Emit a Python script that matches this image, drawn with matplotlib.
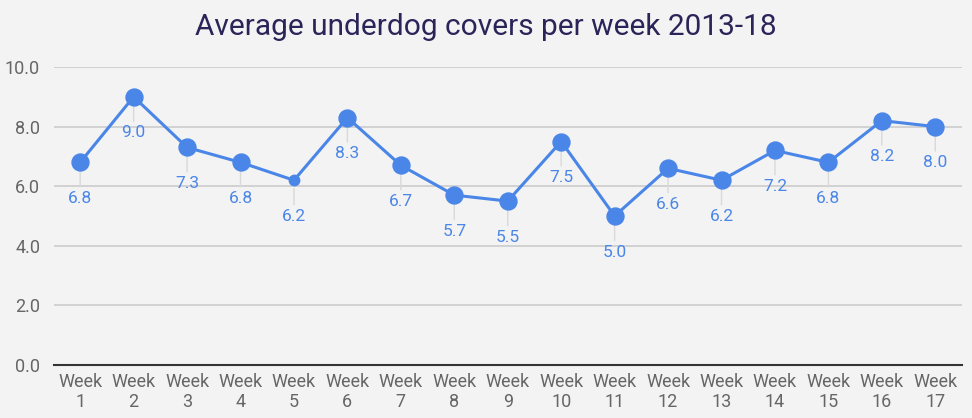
import matplotlib
matplotlib.use("Agg")
import matplotlib.pyplot as plt

weeks = ["Week\n%d" % i for i in range(1, 18)]
values = [6.8, 9.0, 7.3, 6.8, 6.2, 8.3, 6.7, 5.7, 5.5, 7.5, 5.0, 6.6, 6.2, 7.2, 6.8, 8.2, 8.0]
labels = ["%.1f" % v for v in values]
yticks = [0, 2, 4, 6, 8, 10]
title = "Average underdog covers per week 2013-18"

plt.rcParams['font.family'] = ['Roboto', 'DejaVu Sans']

BLUE = '#4a86e8'
BG = '#f3f3f3'

fig = plt.figure(figsize=(9.72, 4.18), dpi=100, facecolor=BG)
ax = fig.add_axes([54/972, 1-365/418, (962-54)/972, (365-67)/418], facecolor=BG)

x = list(range(len(values)))
ax.plot(x, values, color=BLUE, lw=2.2, zorder=3, clip_on=False)
small = {4}
big_x = [i for i in x if i not in small]
ax.plot(big_x, [values[i] for i in big_x], 'o', ms=12.2, color=BLUE, mec=BLUE, zorder=4, clip_on=False)
ax.plot([i for i in small], [values[i] for i in small], 'o', ms=7.5, color=BLUE, zorder=4, clip_on=False)

for i, (v, lab) in enumerate(zip(values, labels)):
    ax.annotate(lab, xy=(i, v), xytext=(0, -26), textcoords='offset points',
                ha='center', va='center', color=BLUE, fontsize=12.5,
                arrowprops=dict(arrowstyle='-', color='#d9d9d9', lw=1.0,
                                shrinkA=1, shrinkB=6),
                zorder=2)

ax.set_xlim(-0.49, 16.5)
ax.set_ylim(0, 10)
ax.set_yticks(yticks)
ax.set_yticklabels(["%.1f" % t for t in yticks])
ax.set_xticks(x)
ax.set_xticklabels(weeks, linespacing=1.15)
ax.tick_params(axis='both', length=0, labelsize=13, labelcolor='#666666')
ax.tick_params(axis='y', pad=10)
ax.tick_params(axis='x', pad=6)
ax.grid(axis='y', color='#cccccc', lw=1.2, zorder=0)
ax.set_axisbelow(True)
for s in ['top', 'right', 'left']:
    ax.spines[s].set_visible(False)
ax.spines['bottom'].set_color('#333333')
ax.spines['bottom'].set_linewidth(1.5)
ax.spines['bottom'].set_zorder(1)

fig.text(486/972, 1-27/418, title, ha='center', va='center', fontsize=21.5, color='#2b2458')

fig.savefig('out.png', dpi=100, facecolor=BG)
